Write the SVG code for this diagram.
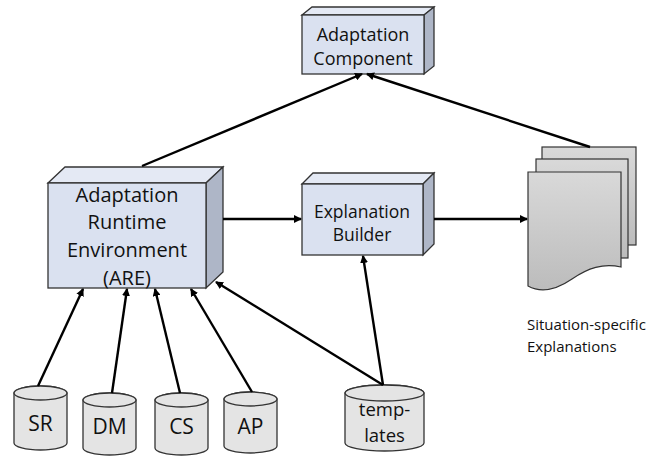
<svg xmlns="http://www.w3.org/2000/svg" width="654" height="457" viewBox="0 0 654 457">
<style>
text{font-family:"Open Sans","Liberation Sans",sans-serif;fill:#111;text-anchor:middle}
.front{fill:#dae1f0;stroke:#333;stroke-width:1.3}
.top{fill:#e4e9f4;stroke:#333;stroke-width:1.3}
.side{fill:#aeb6c7;stroke:#333;stroke-width:1.3}
.cyl{fill:#e4e4e4;stroke:#333;stroke-width:1.3}
.conn line{stroke:#000;stroke-width:2.4;marker-end:url(#ah)}
.are{font-size:20px}
.ac{font-size:18px}
.eb{font-size:17.5px}
.cl{font-size:21px}
.tp{font-size:18.5px}
.ex{font-size:15px;text-anchor:start}
</style>
<defs>
<marker id="ah" markerWidth="8" markerHeight="8" refX="7" refY="4" orient="auto" markerUnits="userSpaceOnUse">
<path d="M0,0 L8,4 L0,8 Z" fill="#000"/>
</marker>
<linearGradient id="pg" x1="0" y1="0" x2="0" y2="1">
<stop offset="0" stop-color="#d9d9d9"/>
<stop offset="1" stop-color="#bcbcbc"/>
</linearGradient>
</defs>

<g id="adaptation-component">
<polygon class="top" points="302,15 312,7 434,7 424,15"/>
<polygon class="side" points="424,15 434,7 434,66 424,74"/>
<rect class="front" x="302" y="15" width="122" height="59"/>
<text class="ac" x="363" y="41">Adaptation</text>
<text class="ac" x="363" y="65">Component</text>
</g>

<g id="are">
<polygon class="top" points="48,183 65,167 223,167 206,183"/>
<polygon class="side" points="206,183 223,167 223,272 206,288"/>
<rect class="front" x="48" y="183" width="158" height="105"/>
<text class="are" x="127" y="202">Adaptation</text>
<text class="are" x="127" y="229">Runtime</text>
<text class="are" x="127" y="257">Environment</text>
<text class="are" x="127" y="285">(ARE)</text>
</g>

<g id="explanation-builder">
<polygon class="top" points="302,184 313,173 434,173 423,184"/>
<polygon class="side" points="423,184 434,173 434,244 423,255"/>
<rect class="front" x="302" y="184" width="121" height="71"/>
<text class="eb" x="362" y="218">Explanation</text>
<text class="eb" x="362" y="241">Builder</text>
</g>

<g id="explanations">
<rect x="542" y="147" width="94" height="98" fill="url(#pg)" stroke="#333" stroke-width="1.2"/>
<rect x="536" y="159" width="92" height="99" fill="url(#pg)" stroke="#333" stroke-width="1.2"/>
<path d="M528,172 H621 V267 C603,263 588,268 572,279 C556,290 541,293 528,286 Z" fill="url(#pg)" stroke="#333" stroke-width="1.2"/>
<text class="ex" x="527" y="330">Situation-specific</text>
<text class="ex" x="527" y="352">Explanations</text>
</g>

<g id="sr">
<path class="cyl" d="M14,393 A26.5,7 0 0 1 67,393 V443 A26.5,7 0 0 1 14,443 Z"/>
<ellipse class="cyl" cx="40.5" cy="393" rx="26.5" ry="7"/>
<text class="cl" x="40.5" y="431">SR</text>
</g>
<g id="dm">
<path class="cyl" d="M83,400 A26.5,7 0 0 1 136,400 V448 A26.5,7 0 0 1 83,448 Z"/>
<ellipse class="cyl" cx="109.5" cy="400" rx="26.5" ry="7"/>
<text class="cl" x="109.5" y="434">DM</text>
</g>
<g id="cs">
<path class="cyl" d="M155,400 A26.5,7 0 0 1 208,400 V448 A26.5,7 0 0 1 155,448 Z"/>
<ellipse class="cyl" cx="181.5" cy="400" rx="26.5" ry="7"/>
<text class="cl" x="181.5" y="434">CS</text>
</g>
<g id="ap">
<path class="cyl" d="M224,399 A26.5,7 0 0 1 277,399 V446 A26.5,7 0 0 1 224,446 Z"/>
<ellipse class="cyl" cx="250.5" cy="399" rx="26.5" ry="7"/>
<text class="cl" x="250.5" y="434">AP</text>
</g>
<g id="templates">
<path class="cyl" d="M345,393 A39.5,8 0 0 1 424,393 V443 A39.5,8 0 0 1 345,443 Z"/>
<ellipse class="cyl" cx="384.5" cy="393" rx="39.5" ry="8"/>
<text class="tp" x="384.5" y="416">temp-</text>
<text class="tp" x="384.5" y="442">lates</text>
</g>

<g id="connectors" class="conn">
<line x1="142" y1="166" x2="362" y2="74"/>
<line x1="590" y1="147" x2="367" y2="74"/>
<line x1="223" y1="219" x2="301" y2="219"/>
<line x1="434" y1="219" x2="527" y2="219"/>
<line x1="38" y1="386" x2="83" y2="289"/>
<line x1="112" y1="393" x2="127" y2="289"/>
<line x1="180" y1="393" x2="155" y2="289"/>
<line x1="252" y1="392" x2="191" y2="289"/>
<line x1="383" y1="385" x2="216" y2="282"/>
<line x1="383" y1="385" x2="363" y2="256"/>
</g>
</svg>
